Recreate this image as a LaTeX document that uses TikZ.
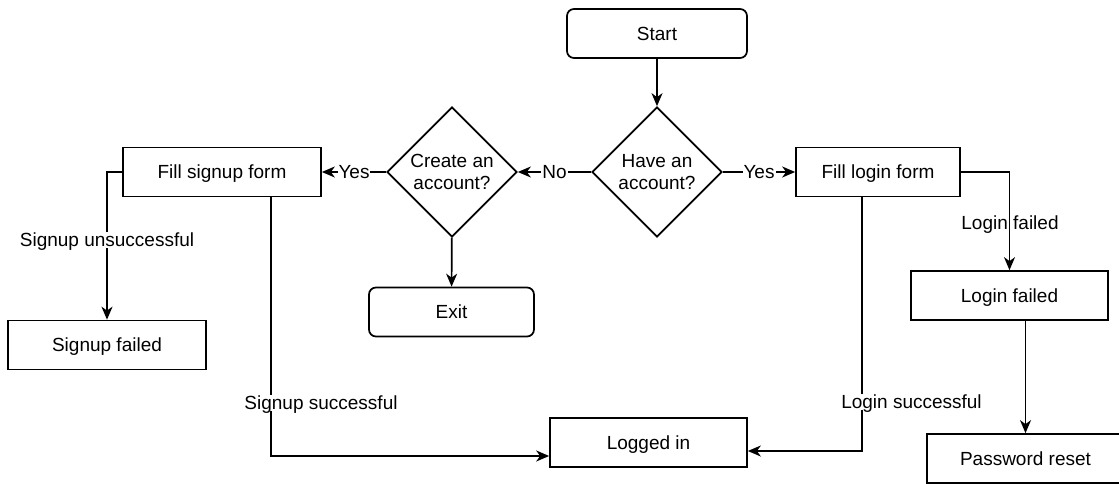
\documentclass[tikz,border=0pt]{standalone}
\usepackage{fontspec}
\setmainfont{Liberation Sans}
\usepackage{tikz}
\usetikzlibrary{shapes.geometric, arrows.meta}
\tikzset{
    box/.style={draw=black, line width=1.7pt, minimum height=49pt, inner sep=2pt, text height=13.6pt, text depth=0pt, fill=white},
    roundbox/.style={box, rounded corners=7pt},
    choice/.style={diamond, draw=black, line width=1.7pt, minimum width=130pt, minimum height=130pt, inner sep=0pt, align=center},
    arr/.style={line width=1.7pt, -{Stealth[length=13pt, width=11pt, inset=4pt]}},
    lbl/.style={fill=white, inner sep=1pt, text height=13.6pt, text depth=0pt},
}

\begin{document}
\begin{tikzpicture}[x=1pt, y=-1pt, font=\fontsize{19}{22}\selectfont]
                 \useasboundingbox (0,0) rectangle (1119,484);
                 \clip (0,0) rectangle (1119,484);

                 \node[roundbox, minimum width=180pt] (start) at (657,33.5) {Start};
                 \node[choice] (have) at (657,172) {Have an\\account?};
                 \node[box, minimum width=164pt] (login) at (878,172) {Fill login form};
                 \node[choice] (create) at (452,172) {Create an\\account?};
                 \node[box, minimum width=198pt] (signup) at (222,172) {Fill signup form};
                 \node[roundbox, minimum width=165pt] (exit) at (451.5,312) {Exit};

                 \node[box, minimum width=198pt] (sfail) at (107,345) {Signup failed};
                 \node[box, minimum width=197pt] (lfail) at (1009.5,295.5) {Login failed};
                 \node[box, minimum width=197pt] (logged) at (648.5,442.5) {Logged in};
                 \node[box, minimum width=197pt] (preset) at (1025.5,458.5) {Password reset};

                 \draw[arr] (start) -- (have);
                 \draw[arr] (have) -- node[lbl] {Yes} (login);
                 \draw[arr] (have) -- node[lbl] {No} (create);
                 \draw[arr] (create) -- node[lbl] {Yes} (signup);
                 \draw[arr] (create) -- (exit);

                 \draw[arr] (signup.west) -| (sfail.north);
                 \node[lbl] (unsucc) at (107,240) {Signup unsuccessful};

                 \draw[arr] ([xshift=49pt]signup.south) |- ([yshift=-13.5pt]logged.west);
                 \node[lbl] (succ) at (321,403) {Signup successful};

                 \draw[arr] ([xshift=-16pt]login.south) |- ([yshift=-8.5pt]logged.east);
                 \node[lbl] (lsucc) at (911.5,402) {Login successful};

                 \draw[arr] (login.east) -| (lfail.north);
                 \node[text height=13.6pt, text depth=0pt] (lfailtxt) at (1010,223) {Login failed};

                 \draw[arr] ([xshift=16pt]lfail.south) -- (preset.north);
\end{tikzpicture}
\end{document}
